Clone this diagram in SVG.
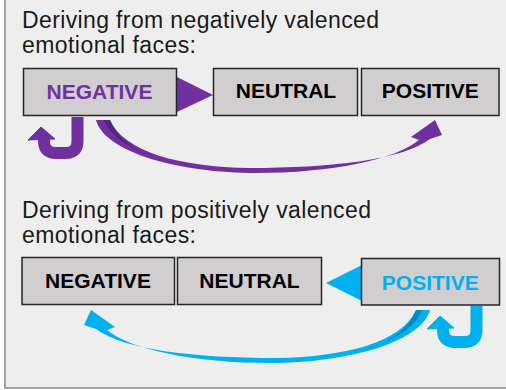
<svg xmlns="http://www.w3.org/2000/svg" width="506" height="390" viewBox="0 0 506 390">
<style>
.title{font-family:"Liberation Sans",Arial,sans-serif;font-size:23px;fill:#1a1a1a}
.box{fill:#d0cecf;stroke:#262626;stroke-width:1.5}
.lbl{font-family:"Liberation Sans",Arial,sans-serif;font-size:21px;font-weight:bold;text-anchor:middle;fill:#000}
.pur{fill:#7030a0}
.blu{fill:#00b0f0}
</style>
<defs>
<g id="uturn">
<path d="M77.5,117 V141 Q77.5,153 65.5,153 H56 Q44,153 44,141 V138" fill="none" stroke-width="12"/>
<polygon points="28,140 41,127 55,139"/>
</g>
<g id="curve">
<path d="M96,120 C104,150 170,171.5 250,173 C330,173.5 395,160 419,140 L411,137 L435,120 L442,135 L430,139 C402,160 330,168 250,168 C180,167 124,152 110,120 Z"/>
</g>
</defs>
<rect x="0" y="0" width="506" height="390" fill="#ffffff"/>
<rect x="5" y="-2" width="504" height="390" fill="#eeeeee" stroke="#a6a6a6" stroke-width="2"/>

<g id="title1">
<text class="title" x="22" y="28" textLength="357" lengthAdjust="spacing">Deriving from negatively valenced</text>
<text class="title" x="22" y="53" textLength="174" lengthAdjust="spacing">emotional faces:</text>
</g>
<g id="title2">
<text class="title" x="22" y="218" textLength="349" lengthAdjust="spacing">Deriving from positively valenced</text>
<text class="title" x="22" y="243" textLength="174" lengthAdjust="spacing">emotional faces:</text>
</g>

<g id="connectors">
<polygon class="pur" points="177,77 177,112 213,95"/>
<use href="#uturn" fill="#7030a0" stroke="#7030a0"/>
<use href="#curve" fill="#7030a0"/>
<path d="M104,120 L110,120 C118,140 135,152 165,160 C135,151 112,140 104,120 Z" fill="#562381"/>
<polygon class="blu" points="362,265 362,301 326,283"/>
<use href="#uturn" fill="#00b0f0" stroke="#00b0f0" transform="translate(399,189)"/>
<g transform="matrix(-1 0 0 1 526 190)">
<use href="#curve" fill="#00b0f0"/>
<path d="M104,120 L110,120 C118,140 135,152 165,160 C135,151 112,140 104,120 Z" fill="#0089c0"/>
</g>
</g>

<g id="neg1">
<rect class="box" x="23.5" y="68.5" width="153" height="47"/>
<text class="lbl" x="99.5" y="98.5" style="fill:#7030a0">NEGATIVE</text>
</g>
<g id="neu1">
<rect class="box" x="213.5" y="68.5" width="144" height="47"/>
<text class="lbl" x="286" y="98">NEUTRAL</text>
</g>
<g id="pos1">
<rect class="box" x="361.5" y="68.5" width="137.5" height="47"/>
<text class="lbl" x="430.3" y="98">POSITIVE</text>
</g>

<g id="neg2">
<rect class="box" x="22" y="257.5" width="152.5" height="47"/>
<text class="lbl" x="98" y="287.5">NEGATIVE</text>
</g>
<g id="neu2">
<rect class="box" x="177.5" y="257.5" width="144" height="47"/>
<text class="lbl" x="249.5" y="287.5">NEUTRAL</text>
</g>
<g id="pos2">
<rect class="box" x="361.5" y="258.5" width="138" height="46.5"/>
<text class="lbl" x="430.3" y="289.5" style="fill:#00b0f0">POSITIVE</text>
</g>
</svg>
